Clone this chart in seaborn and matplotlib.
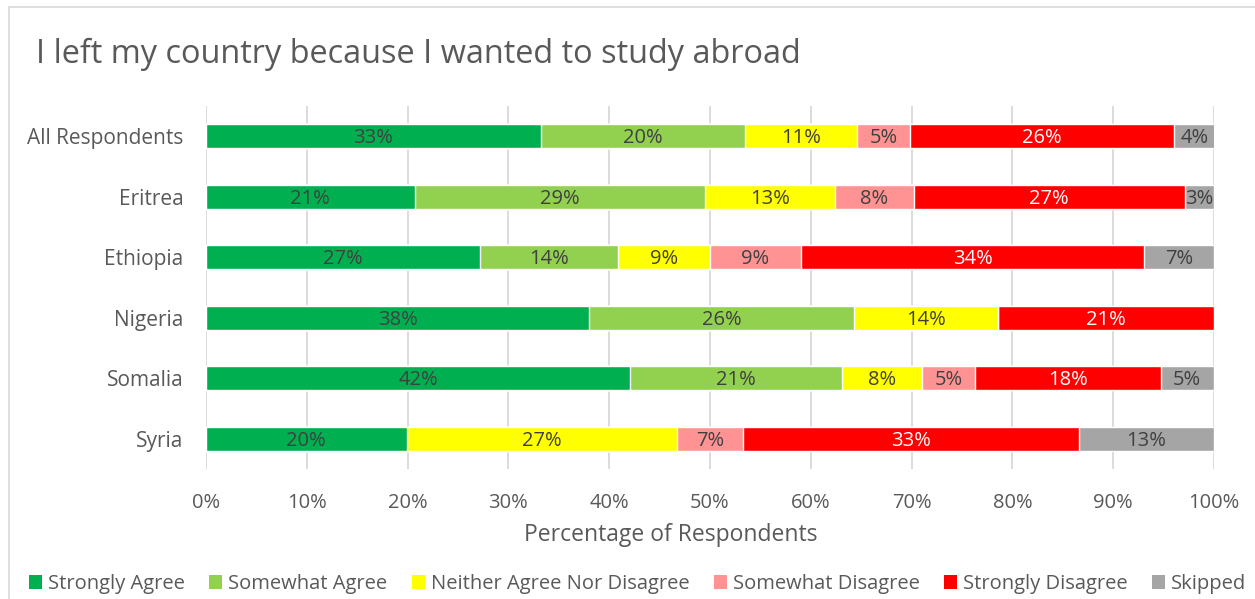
import numpy as np
import pandas as pd
import matplotlib
matplotlib.use("Agg")
import matplotlib.pyplot as plt
import seaborn as sns
from matplotlib.patches import Patch
from matplotlib.lines import Line2D

# データ (画像から読み取った値, %)
countries = ["All Respondents", "Eritrea", "Ethiopia", "Nigeria", "Somalia", "Syria"]
responses = ["Strongly Agree", "Somewhat Agree", "Neither Agree Nor Disagree",
             "Somewhat Disagree", "Strongly Disagree", "Skipped"]
strongly_agree = [33.2, 20.7, 27.2, 38.0, 42.1, 19.9]
somewhat_agree = [20.3, 28.8, 13.7, 26.3, 21.0, 0.0]
neither = [11.1, 12.9, 9.1, 14.3, 7.9, 26.8]
somewhat_disagree = [5.2, 7.8, 9.0, 0.0, 5.3, 6.6]
strongly_disagree = [26.2, 26.9, 34.1, 21.4, 18.4, 33.3]
skipped = [4.1, 2.9, 6.9, 0.0, 5.3, 13.4]
colors = ["#00b050", "#92d050", "#ffff00", "#ff9393", "#ff0000", "#a5a5a5"]
label_colors = ["#404040", "#404040", "#404040", "#404040", "white", "#404040"]

df = pd.DataFrame({"country": countries,
                   "Strongly Agree": strongly_agree,
                   "Somewhat Agree": somewhat_agree,
                   "Neither Agree Nor Disagree": neither,
                   "Somewhat Disagree": somewhat_disagree,
                   "Strongly Disagree": strongly_disagree,
                   "Skipped": skipped})
cum = df[responses].cumsum(axis=1)

sns.set_style("white")
plt.rcParams["font.family"] = ["Open Sans", "DejaVu Sans"]
txt = "#595959"

fig = plt.figure(figsize=(12.55, 5.99), dpi=100)
ax = fig.add_axes([0.1641, 0.217, 0.8032, 0.606])

# 積み上げ: 累積の大きい方から順に重ねて描く
for i in reversed(range(len(responses))):
    sns.barplot(x=cum[responses[i]], y=df["country"], orient="h",
                color=colors[i], width=0.4, ax=ax, saturation=1, zorder=2)

# ラベル
for i, r in enumerate(responses):
    for j, v in enumerate(df[r]):
        if v <= 0:
            continue
        xc = cum[r][j] - v / 2
        ax.text(xc, j + 0.03, "%d%%" % round(v), ha="center", va="center",
                fontsize=14.5, color=label_colors[i], zorder=3)

ax.set_xlim(0, 100)
ax.set_ylim(5.5, -0.5)
ax.set_xticks(np.arange(0, 101, 10))
ax.set_xticklabels(["%d%%" % t for t in range(0, 101, 10)])
ax.grid(axis="x", color="#d9d9d9", linewidth=1.3, zorder=0)
ax.set_axisbelow(True)
for s in ax.spines.values():
    s.set_visible(False)
ax.tick_params(axis="x", length=0, labelsize=14.5, labelcolor=txt, pad=17)
ax.tick_params(axis="y", length=0, labelsize=15, labelcolor=txt, pad=16)
ax.set_ylabel("")
ax.set_xlabel("Percentage of Respondents", fontsize=16.5, color=txt)
ax.xaxis.set_label_coords(0.461, -0.148)

fig.text(0.029, 0.91, "I left my country because I wanted to study abroad",
         fontsize=23.4, color=txt, va="center", ha="left")

handles = [Patch(facecolor=c, edgecolor="none", label=r) for c, r in zip(colors, responses)]
fig.legend(handles=handles, loc="center", bbox_to_anchor=(0.508, 1 - 584 / 599), ncol=6,
           frameon=False, fontsize=14.5, handlelength=0.65, handleheight=0.65,
           handletextpad=0.3, columnspacing=1.2, labelcolor=txt)

# 外枠
fig.add_artist(Line2D([9 / 1255, 1.0], [1 - 7 / 599, 1 - 7 / 599], transform=fig.transFigure,
                      color="#d9d9d9", linewidth=1.2))
fig.add_artist(Line2D([9 / 1255, 9 / 1255], [0.0, 1 - 7 / 599], transform=fig.transFigure,
                      color="#d9d9d9", linewidth=1.2))

plt.savefig("out.png", dpi=100)
